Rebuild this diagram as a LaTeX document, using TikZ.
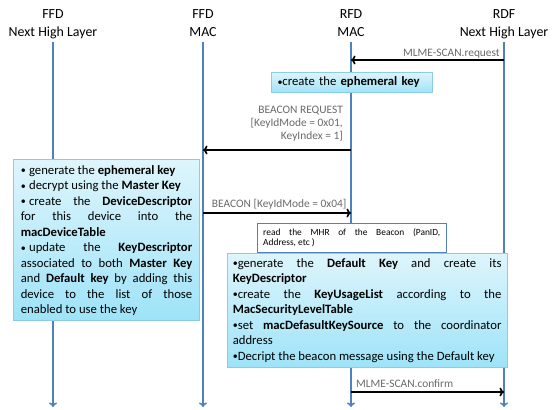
\documentclass[tikz,border=0pt]{standalone}
\usepackage{fontspec}
\setmainfont{Carlito}
\usetikzlibrary{arrows.meta}
\definecolor{lifeblue}{RGB}{79,129,189}
\definecolor{boxtop}{RGB}{222,245,252}
\definecolor{boxbot}{RGB}{158,227,248}
\definecolor{boxline}{RGB}{140,204,228}
\definecolor{msggray}{RGB}{105,105,105}
\hyphenpenalty=10000
\exhyphenpenalty=10000
\tolerance=9999
% small list bullet; the spaced variant keeps a fixed gap that justification cannot stretch
\newcommand\dotmark{\raisebox{0.5pt}{\fontsize{10}{10}\selectfont •}}
\newcommand\dotsp{\dotmark\hspace{0.26em}}
\tikzset{
  head/.style={align=center,font=\fontsize{13.9}{17.7}\selectfont,inner sep=0pt,anchor=north},
  life/.style={draw=lifeblue,line width=2pt,-{To[length=4.5pt,width=8pt,line width=1.6pt]}},
  msg/.style={draw=black,line width=2pt,-{To[length=4.5pt,width=9pt,line width=1.6pt]}},
  msglabel/.style={text=msggray,font=\fontsize{11.4}{13.4}\selectfont,inner sep=0pt},
  notebox/.style={draw=boxline,line width=1pt,top color=boxtop,bottom color=boxbot,
    font=\fontsize{12.7}{15.5}\selectfont,align=justify,anchor=north west},
  readbox/.style={draw=lifeblue,line width=1pt,fill=white,align=justify,
    font=\fontsize{9.4}{10.6}\selectfont,inner xsep=6pt,anchor=north west}
}
\begin{document}
\begin{tikzpicture}[x=1pt,y=-1pt]
\useasboundingbox (0,0) rectangle (553,409);

% participants
\node[head] (h1) at (53,9.5)  {FFD\\Next High Layer};
\node[head] (h2) at (203,9.5) {FFD\\MAC};
\node[head] (h3) at (351,9.5) {RFD\\MAC};
\node[head] (h4) at (504,9.5) {RDF\\Next High Layer};

% lifeline ends
\coordinate (t1) at (53,42);  \coordinate (b1) at (53,407);
\coordinate (t2) at (203,42); \coordinate (b2) at (203,407);
\coordinate (t3) at (351,42); \coordinate (b3) at (351,407);
\coordinate (t4) at (504,42); \coordinate (b4) at (504,407);
\draw[life] (t1) -- (b1);
\draw[life] (t2) -- (b2);
\draw[life] (t3) -- (b3);
\draw[life] (t4) -- (b4);

% message anchor points on the lifelines
\coordinate (r4) at (504,60);  \coordinate (r3) at (351,60);
\coordinate (q3) at (351,150); \coordinate (q2) at (203,150);
\coordinate (s2) at (203,213); \coordinate (s3) at (351,213);
\coordinate (c3) at (351,392); \coordinate (c4) at (504,392);

% MLME-SCAN.request
\draw[msg] (r4) -- (r3);
\node[msglabel,anchor=base east] (l1) at (500,56.5) {MLME-SCAN.request};

% ephemeral key note
\node[notebox,align=left,text width=149pt,minimum height=20.6pt,inner xsep=6pt,inner ysep=0pt]
  (n1) at (271,71.7) {\dotmark create the \textbf{ephemeral key}};

% beacon request
\node[msglabel,align=right,anchor=north east] (l2) at (343,105.5)
  {BEACON REQUEST\\{}[KeyIdMode = 0x01,\\KeyIndex = 1]};
\draw[msg] (q3) -- (q2);

% FFD next-layer actions
\node[notebox,text width=171.5pt,inner xsep=7pt,inner ysep=5.3pt] (n2) at (13.3,159.3)
  {\dotsp generate the \textbf{ephemeral key}\par
   \dotsp decrypt using the \textbf{Master Key}\par
   \dotsp create the \textbf{DeviceDescriptor}\linebreak
   for this device into the\linebreak
   \textbf{macDeviceTable}\par
   \dotsp update the \textbf{KeyDescriptor}\linebreak
   associated to both \textbf{Master Key}\linebreak
   and \textbf{Default key} by adding this\linebreak
   device to the list of those\linebreak
   enabled to use the key};

% beacon
\node[msglabel,anchor=base west] (l3) at (211.7,207) {BEACON [KeyIdMode = 0x04]};
\draw[msg] (s2) -- (s3);

% MHR read note
\node[readbox,text width=177pt,minimum height=29.3pt,inner ysep=2pt] (n3) at (256.7,222.7)
  {read the MHR of the Beacon (PanID,\linebreak Address, etc )};

% RFD MAC actions
\node[notebox,text width=268.7pt,inner xsep=5.6pt,inner ysep=5pt] (n4) at (226.7,252.7)
  {\dotmark generate the \textbf{Default Key} and create its\linebreak
   \textbf{KeyDescriptor}\par
   \dotmark create the \textbf{KeyUsageList} according to the\linebreak
   \textbf{MacSecurityLevelTable}\par
   \dotmark set \textbf{macDefasultKeySource} to the coordinator\linebreak
   address\par
   \dotmark Decript the beacon message using the Default key};

% MLME-SCAN.confirm
\node[msglabel,anchor=base west] (l4) at (356,387.6) {MLME-SCAN.confirm};
\draw[msg] (c3) -- (c4);
\end{tikzpicture}
\end{document}
